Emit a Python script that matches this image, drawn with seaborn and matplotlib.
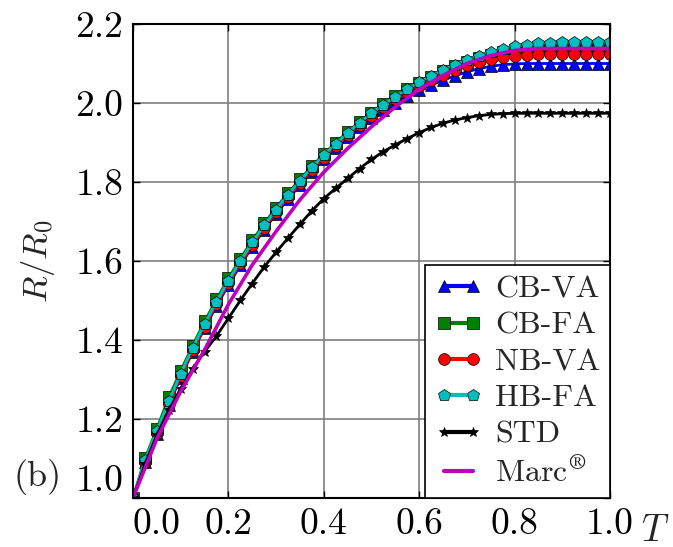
import numpy as np
import pandas as pd
import matplotlib
matplotlib.use("Agg")
import matplotlib.pyplot as plt
import seaborn as sns

# Normalised radius R/R0 versus normalised time T for each scheme
T = [0.000, 0.025, 0.050, 0.075, 0.100, 0.125, 0.150, 0.175, 0.200, 0.225,
     0.250, 0.275, 0.300, 0.325, 0.350, 0.375, 0.400, 0.425, 0.450, 0.475,
     0.500, 0.525, 0.550, 0.575, 0.600, 0.625, 0.650, 0.675, 0.700, 0.725,
     0.750, 0.775, 0.800, 0.825, 0.850, 0.875, 0.900, 0.925, 0.950, 0.975, 1.000]

cb_va = [1.000, 1.090, 1.162, 1.235, 1.305, 1.370, 1.430, 1.486, 1.539, 1.589,
         1.636, 1.679, 1.719, 1.757, 1.792, 1.826, 1.857, 1.886, 1.913, 1.938,
         1.961, 1.982, 2.001, 2.018, 2.033, 2.046, 2.058, 2.069, 2.079, 2.087,
         2.093, 2.097, 2.099, 2.100, 2.100, 2.100, 2.100, 2.100, 2.100, 2.100, 2.100]

cb_fa = [1.000, 1.100, 1.175, 1.255, 1.322, 1.386, 1.447, 1.503, 1.556, 1.606,
         1.652, 1.695, 1.735, 1.772, 1.807, 1.840, 1.871, 1.900, 1.927, 1.952,
         1.975, 1.997, 2.017, 2.035, 2.051, 2.066, 2.080, 2.093, 2.104, 2.114,
         2.122, 2.129, 2.134, 2.138, 2.141, 2.143, 2.144, 2.145, 2.145, 2.145, 2.145]

nb_va = [1.000, 1.092, 1.165, 1.239, 1.309, 1.374, 1.434, 1.491, 1.544, 1.594,
         1.641, 1.684, 1.724, 1.762, 1.797, 1.831, 1.862, 1.891, 1.918, 1.944,
         1.967, 1.989, 2.009, 2.027, 2.043, 2.058, 2.072, 2.084, 2.095, 2.104,
         2.111, 2.116, 2.120, 2.122, 2.124, 2.125, 2.125, 2.125, 2.125, 2.125, 2.125]

hb_fa = [1.000, 1.095, 1.170, 1.245, 1.315, 1.380, 1.440, 1.497, 1.550, 1.600,
         1.647, 1.690, 1.730, 1.768, 1.803, 1.837, 1.868, 1.897, 1.924, 1.950,
         1.974, 1.996, 2.016, 2.035, 2.052, 2.068, 2.083, 2.097, 2.109, 2.120,
         2.130, 2.138, 2.144, 2.148, 2.151, 2.153, 2.154, 2.155, 2.155, 2.155, 2.155]

std = [1.000, 1.085, 1.160, 1.222, 1.277, 1.327, 1.370, 1.410, 1.455, 1.500,
       1.543, 1.585, 1.622, 1.658, 1.693, 1.727, 1.758, 1.784, 1.809, 1.834,
       1.857, 1.877, 1.894, 1.910, 1.925, 1.938, 1.949, 1.957, 1.963, 1.968,
       1.971, 1.973, 1.974, 1.974, 1.974, 1.974, 1.974, 1.974, 1.974, 1.974, 1.974]

# Marc reference solution (plain line)
T_marc = [0.00, 0.05, 0.10, 0.15, 0.20, 0.25, 0.30, 0.35, 0.40, 0.45, 0.50,
          0.55, 0.60, 0.65, 0.70, 0.75, 0.80, 0.85, 0.90, 0.95, 1.00]
marc = [1.000, 1.150, 1.270, 1.375, 1.490, 1.590, 1.675, 1.755, 1.825, 1.885, 1.940,
        1.990, 2.035, 2.070, 2.100, 2.120, 2.133, 2.138, 2.138, 2.138, 2.138]

x_ticks = [0.0, 0.2, 0.4, 0.6, 0.8, 1.0]
y_ticks = [1.0, 1.2, 1.4, 1.6, 1.8, 2.0, 2.2]

sns.set_style("ticks")
plt.rcParams["font.family"] = ["cmr10", "DejaVu Serif"]
plt.rcParams["mathtext.fontset"] = "cm"
plt.rcParams["axes.unicode_minus"] = False
plt.rcParams["axes.formatter.use_mathtext"] = True

fig = plt.figure(figsize=(6.73, 5.47), dpi=100)
ax = fig.add_axes([0.1976, 0.0896, 0.7088, 0.8665])

series = [
    ("CB-VA", cb_va, "#0000ff", "^", 9.0),
    ("CB-FA", cb_fa, "#008000", "s", 9.0),
    ("NB-VA", nb_va, "#ff0000", "o", 8.5),
    ("HB-FA", hb_fa, "#00bfbf", "p", 9.0),
    ("STD", std, "#000000", "*", 7.5),
]
for name, vals, col, mk, ms in series:
    df = pd.DataFrame({"T": T, "R": vals})
    sns.lineplot(data=df, x="T", y="R", ax=ax, color=col, marker=mk,
                 markersize=ms, markeredgecolor="black", markeredgewidth=0.5,
                 linewidth=2.0, label=name, sort=False, estimator=None)

df_marc = pd.DataFrame({"T": T_marc, "R": marc})
sns.lineplot(data=df_marc, x="T", y="R", ax=ax, color="#bf00bf",
             linewidth=2.6, label=r"Marc$^{\circledR}$", sort=False, estimator=None)

ax.set_xlim(0.0, 1.0)
ax.set_ylim(1.0, 2.2)
ax.set_xticks(x_ticks)
ax.set_yticks(y_ticks)
ax.set_xticklabels([f"{v:.1f}" for v in x_ticks])
ax.set_yticklabels([f"{v:.1f}" for v in y_ticks])
ax.grid(True, color="#7f7f7f", linewidth=1.2)
ax.set_axisbelow(True)
ax.tick_params(direction="in", top=True, right=True, length=5, width=1,
               labelsize=27, pad=7, colors="black")
for sp in ax.spines.values():
    sp.set_color("black")
    sp.set_linewidth(1.5)

# nudge the corner labels apart
ax.get_xticklabels()[0].set_horizontalalignment("left")
ax.get_yticklabels()[0].set_verticalalignment("bottom")

ax.set_xlabel("")
ax.set_ylabel(r"$R/R_0$", fontsize=25)
ax.yaxis.set_label_coords(-0.16, 0.5)
ax.text(1.094, -0.07, r"$T$", transform=ax.transAxes, fontsize=27,
        ha="center", va="center")
ax.text(-0.201, 0.044, "(b)", transform=ax.transAxes, fontsize=26,
        ha="center", va="center")

leg = ax.legend(loc="lower right", borderaxespad=0, numpoints=2,
                fontsize=23, handlelength=1.5, handletextpad=0.4,
                labelspacing=0.25, borderpad=0.3, fancybox=False,
                framealpha=1, edgecolor="black")
leg.get_frame().set_linewidth(1.2)
for h in leg.legend_handles:
    h.set_linewidth(3.0)

fig.savefig("out.png", dpi=100)
